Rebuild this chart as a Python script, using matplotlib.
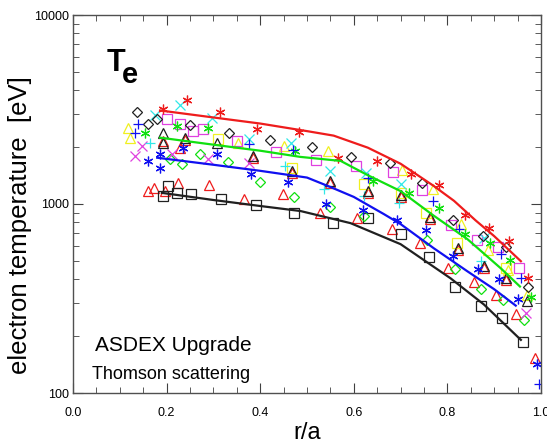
import numpy as np
import matplotlib.pyplot as plt
from matplotlib.ticker import FixedLocator, NullFormatter, MultipleLocator

plt.rcParams['font.family'] = ['Liberation Sans', 'DejaVu Sans']

# fitted profiles (r/a, Te in eV)
red_fit_r = [0.186, 0.3, 0.4, 0.5, 0.557, 0.63, 0.7, 0.77, 0.814, 0.86, 0.9, 0.957]
red_fit_te = [3125, 2870, 2665, 2430, 2300, 1986, 1633, 1250, 1040, 820, 676, 498]
green_fit_r = [0.186, 0.3, 0.4, 0.486, 0.572, 0.63, 0.7, 0.77, 0.843, 0.914, 0.955]
green_fit_te = [2244, 2060, 1914, 1775, 1690, 1420, 1170, 870, 651, 457, 366]
blue_fit_r = [0.18, 0.3, 0.4, 0.5, 0.55, 0.6, 0.664, 0.7, 0.771, 0.843, 0.9, 0.946]
blue_fit_te = [1757, 1613, 1498, 1380, 1230, 1090, 885, 783, 583, 440, 354, 290]
black_fit_r = [0.19, 0.3, 0.4, 0.486, 0.593, 0.7, 0.807, 0.878, 0.957]
black_fit_te = [1145, 1050, 976, 918, 792, 613, 404, 294, 191]

# Thomson scattering measurements
red_ast_r = [0.193, 0.244, 0.315, 0.394, 0.482, 0.567, 0.649, 0.722, 0.782, 0.837, 0.889, 0.931, 0.972]
red_ast_te = [3200, 3530, 3050, 2505, 2415, 1757, 1693, 1444, 1262, 874, 745, 636, 404]

red_tri_r = [0.161, 0.173, 0.197, 0.225, 0.291, 0.366, 0.448, 0.527, 0.606, 0.681, 0.741, 0.801,
             0.857, 0.904, 0.946, 0.987, 0.193, 0.240, 0.385, 0.469, 0.550, 0.630, 0.700, 0.762,
             0.822, 0.878, 0.925, 0.229]
red_tri_te = [1173, 1217, 1173, 1293, 1262, 1063, 1131, 896, 843, 736, 620, 457,
              385, 328, 263, 153, 2163, 2191, 1757, 1462, 1293, 1145, 1090, 832,
              569, 457, 394, 1986]

black_tri_r = [0.193, 0.193, 0.240, 0.308, 0.385, 0.469, 0.550, 0.630, 0.700, 0.762, 0.822, 0.878, 0.925, 0.970]
black_tri_te = [2386, 2110, 2244, 2110, 1800, 1498, 1325, 1173, 1117, 853, 583, 468, 404, 305]

black_diam_r = [0.137, 0.161, 0.180, 0.251, 0.334, 0.420, 0.510, 0.595, 0.677, 0.745, 0.812, 0.876, 0.925, 0.972]
black_diam_te = [3049, 2665, 2833, 2632, 2386, 2191, 2010, 1778, 1653, 1293, 822, 676, 591, 366]

black_sq_r = [0.193, 0.203, 0.223, 0.253, 0.317, 0.392, 0.473, 0.555, 0.630, 0.700, 0.760, 0.816, 0.872, 0.916, 0.961]
black_sq_te = [1103, 1247, 1145, 1131, 1063, 988, 896, 792, 843, 692, 523, 362, 287, 250, 187]

green_ast_r = [0.154, 0.223, 0.289, 0.475, 0.642, 0.717, 0.782, 0.837, 0.891, 0.934, 0.979]
green_ast_te = [2386, 2600, 2535, 1914, 1325, 1145, 952, 692, 620, 504, 324]

green_diam_r = [0.208, 0.233, 0.272, 0.332, 0.400, 0.473, 0.550, 0.621, 0.756, 0.816, 0.872, 0.919, 0.964]
green_diam_te = [1735, 1633, 1845, 1673, 1309, 1090, 964, 863, 644, 451, 357, 312, 244]

blue_ast_r = [0.161, 0.186, 0.186, 0.236, 0.308, 0.381, 0.460, 0.540, 0.619, 0.692, 0.754, 0.812, 0.865, 0.910, 0.951, 0.991]
blue_ast_te = [1693, 1845, 1553, 1986, 1845, 1444, 1309, 1000, 929, 822, 727, 529, 451, 399, 316, 143]

blue_plus_r = [0.139, 0.133, 0.377, 0.471, 0.630, 0.769, 0.824, 0.914, 0.957, 0.996]
blue_plus_te = [2665, 2386, 2085, 1938, 1375, 1037, 736, 542, 404, 112]

cyan_plus_r = [0.165, 0.454, 0.537, 0.621, 0.696, 0.872]
cyan_plus_te = [2110, 1593, 1202, 1103, 1012, 498]

cyan_x_r = [0.176, 0.229, 0.298, 0.375, 0.465, 0.550, 0.625, 0.700, 0.878]
cyan_x_te = [2940, 3321, 2866, 2217, 2110, 1498, 1462, 1277, 659]

magenta_sq_r = [0.201, 0.229, 0.257, 0.278, 0.351, 0.433, 0.520, 0.604, 0.683, 0.745, 0.807, 0.863, 0.908, 0.953]
magenta_sq_te = [2833, 2665, 2444, 2505, 2163, 1891, 1714, 1593, 1480, 1187, 773, 644, 591, 457]

magenta_x_r = [0.148, 0.133, 0.212, 0.289, 0.375, 0.968]
magenta_x_te = [2035, 1800, 1845, 1735, 1653, 266]

yellow_tri_r = [0.118, 0.122, 0.353, 0.450, 0.544, 0.704, 0.769, 0.829, 0.887, 0.929, 0.970]
yellow_tri_te = [2535, 2244, 2110, 2035, 1914, 1516, 1202, 783, 569, 446, 332]

yellow_sq_r = [0.310, 0.469, 0.621, 0.700, 0.754, 0.820, 0.925]
yellow_sq_te = [2217, 1553, 1277, 1145, 896, 620, 457]

RED = '#ee1c1c'
GREEN = '#10e010'
BLUE = '#1010f0'
BLACK = '#202020'
CYAN = '#30e8e8'
MAGENTA = '#e040e0'
YELLOW = '#f0f020'
ASTER = (6, 2, 0)

fig = plt.figure(figsize=(5.47, 4.44), dpi=100)
ax = fig.add_axes([73 / 547, 51 / 444, 468 / 547, 378 / 444])

groups = [
    (red_tri_r, red_tri_te, '^', RED),
    (black_sq_r, black_sq_te, 's', BLACK),
    (green_diam_r, green_diam_te, 'D', GREEN),
    (yellow_tri_r, yellow_tri_te, '^', YELLOW),
    (yellow_sq_r, yellow_sq_te, 's', YELLOW),
    (magenta_sq_r, magenta_sq_te, 's', MAGENTA),
    (magenta_x_r, magenta_x_te, 'x', MAGENTA),
    (cyan_plus_r, cyan_plus_te, '+', CYAN),
    (cyan_x_r, cyan_x_te, 'x', CYAN),
    (black_diam_r, black_diam_te, 'D', BLACK),
    (black_tri_r, black_tri_te, '^', BLACK),
    (green_ast_r, green_ast_te, ASTER, GREEN),
    (blue_plus_r, blue_plus_te, '+', BLUE),
    (blue_ast_r, blue_ast_te, ASTER, BLUE),
    (red_ast_r, red_ast_te, ASTER, RED),
]
for r, te, m, c in groups:
    ms = 5.5 if m == 'D' else 7
    ax.plot(r, te, linestyle='none', marker=m, markersize=ms, markeredgewidth=0.9,
            markerfacecolor='none', markeredgecolor=c, color=c)

ax.plot(red_fit_r, red_fit_te, color=RED, lw=1.6)
ax.plot(green_fit_r, green_fit_te, color=GREEN, lw=1.6)
ax.plot(blue_fit_r, blue_fit_te, color=BLUE, lw=1.6)
ax.plot(black_fit_r, black_fit_te, color=BLACK, lw=1.6)

ax.set_yscale('log')
ax.set_xlim(0, 1.0)
ax.set_ylim(100, 10000)

ax.xaxis.set_major_locator(MultipleLocator(0.2))
ax.xaxis.set_minor_locator(MultipleLocator(0.05))
ax.yaxis.set_major_locator(FixedLocator([100, 1000, 10000]))
ax.set_yticklabels(['100', '1000', '10000'])
minors = [m * d for d in (100, 1000) for m in range(2, 10)]
ax.yaxis.set_minor_locator(FixedLocator(minors))
ax.yaxis.set_minor_formatter(NullFormatter())

ax.tick_params(which='both', direction='in', top=True, right=True, colors='#404040',
               labelcolor='black', labelsize=9)
ax.tick_params(axis='x', which='major', length=7, pad=10)
ax.tick_params(axis='y', which='major', length=7, pad=3)
ax.tick_params(which='minor', length=4)
for s in ax.spines.values():
    s.set_color('#505050')
    s.set_linewidth(1.0)

ax.set_xlabel('r/a', fontsize=17, labelpad=2)
ax.set_ylabel('electron temperature  [eV]', fontsize=18.5)
ax.yaxis.set_label_coords(-0.087, 0.445)

ax.text(0.072, 0.851, 'T', transform=ax.transAxes, fontsize=22, fontweight='bold')
ax.text(0.104, 0.821, 'e', transform=ax.transAxes, fontsize=21, fontweight='bold')
ax.text(0.047, 0.11, 'ASDEX Upgrade', transform=ax.transAxes, fontsize=15)
ax.text(0.04, 0.036, 'Thomson scattering', transform=ax.transAxes, fontsize=13)

fig.savefig('out.png', dpi=100)
